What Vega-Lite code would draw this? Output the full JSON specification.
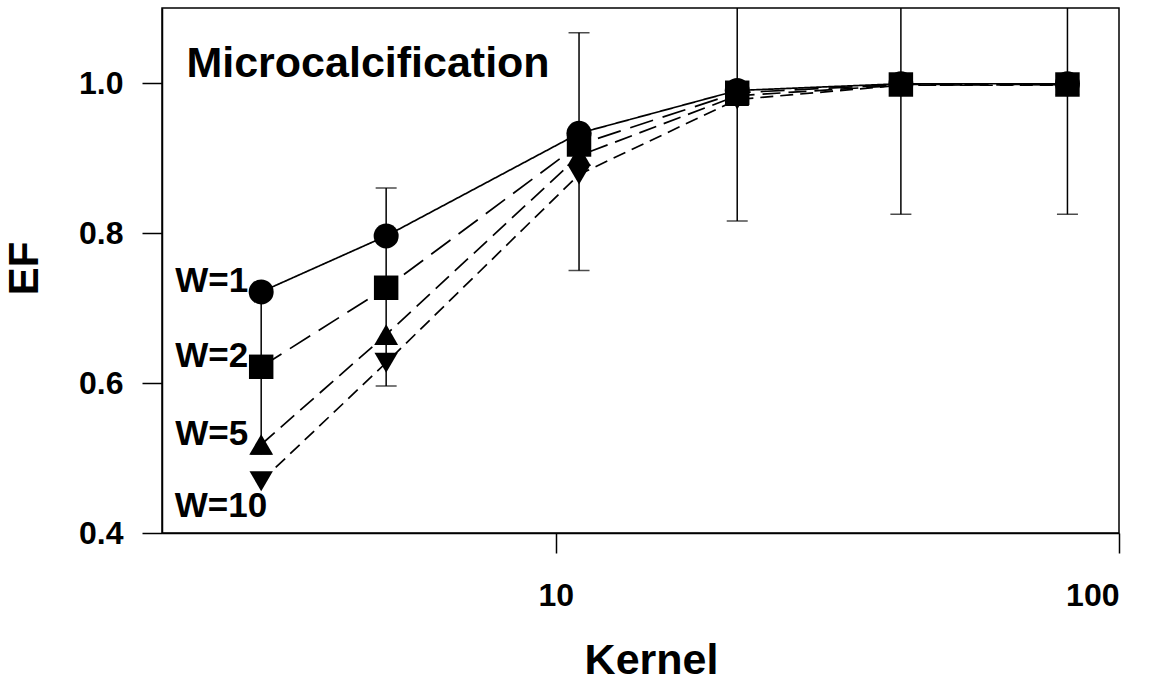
{
  "$schema": "https://vega.github.io/schema/vega-lite/v6.json",
  "width": 957,
  "height": 525,
  "autosize": "none",
  "padding": {"left": 162, "top": 8, "right": 38, "bottom": 150},
  "background": "white",
  "config": {
    "font": "Liberation Sans",
    "view": {"stroke": "black", "strokeWidth": 1.5},
    "axis": {
      "domainColor": "black", "domainWidth": 1.5,
      "tickColor": "black", "tickWidth": 1.5, "tickSize": 20,
      "labelColor": "black", "labelFont": "Liberation Sans", "labelFontSize": 32, "labelFontWeight": "bold",
      "titleFont": "Liberation Sans", "titleFontSize": 43, "titleFontWeight": "bold", "titleColor": "black",
      "grid": false
    }
  },
  "datasets": {
    "points": [
      {"kernel": 3, "ef": 0.7215, "series": "W=1"},
      {"kernel": 5, "ef": 0.796, "series": "W=1"},
      {"kernel": 11, "ef": 0.933, "series": "W=1"},
      {"kernel": 21, "ef": 0.99, "series": "W=1"},
      {"kernel": 41, "ef": 0.999, "series": "W=1"},
      {"kernel": 81, "ef": 0.999, "series": "W=1"},
      {"kernel": 3, "ef": 0.6216, "series": "W=2"},
      {"kernel": 5, "ef": 0.727, "series": "W=2"},
      {"kernel": 11, "ef": 0.918, "series": "W=2"},
      {"kernel": 21, "ef": 0.987, "series": "W=2"},
      {"kernel": 41, "ef": 0.998, "series": "W=2"},
      {"kernel": 81, "ef": 0.998, "series": "W=2"},
      {"kernel": 3, "ef": 0.518, "series": "W=5"},
      {"kernel": 5, "ef": 0.6645, "series": "W=5"},
      {"kernel": 11, "ef": 0.903, "series": "W=5"},
      {"kernel": 21, "ef": 0.983, "series": "W=5"},
      {"kernel": 41, "ef": 0.997, "series": "W=5"},
      {"kernel": 81, "ef": 0.998, "series": "W=5"},
      {"kernel": 3, "ef": 0.469, "series": "W=10"},
      {"kernel": 5, "ef": 0.627, "series": "W=10"},
      {"kernel": 11, "ef": 0.878, "series": "W=10"},
      {"kernel": 21, "ef": 0.978, "series": "W=10"},
      {"kernel": 41, "ef": 0.997, "series": "W=10"},
      {"kernel": 81, "ef": 0.997, "series": "W=10"}
    ],
    "errors": [
      {"kernel": 3, "lo": 0.505, "hi": 0.72},
      {"kernel": 5, "lo": 0.596, "hi": 0.86},
      {"kernel": 11, "lo": 0.75, "hi": 1.067},
      {"kernel": 21, "lo": 0.816, "hi": 1.16},
      {"kernel": 41, "lo": 0.825, "hi": 1.17},
      {"kernel": 81, "lo": 0.825, "hi": 1.17}
    ],
    "notes": [
      {"kernel": 2.21, "ef": 1.0076, "label": "Microcalcification"}
    ]
  },
  "layer": [
    {
      "data": {"name": "errors"},
      "mark": {"type": "rule", "clip": true, "color": "black", "strokeWidth": 1.5},
      "encoding": {
        "x": {"field": "kernel", "type": "quantitative", "scale": {"type": "log", "domain": [2, 100], "nice": false},
              "axis": {"values": [10, 100], "format": "d", "labelPadding": 52, "labelBaseline": "alphabetic", "title": "Kernel", "titleX": 489, "titleY": 140, "titleBaseline": "alphabetic", "titleAnchor": null}},
        "y": {"field": "lo", "type": "quantitative", "scale": {"domain": [0.4, 1.1], "nice": false, "zero": false},
              "axis": {"values": [0.4, 0.6, 0.8, 1.0], "format": ".1f", "labelPadding": 19, "title": "EF", "titleX": -125, "titleY": 260, "titleBaseline": "alphabetic", "titleAngle": 270, "titleFontSize": 42}},
        "y2": {"field": "hi"}
      }
    },
    {
      "data": {"name": "errors"},
      "mark": {"type": "tick", "orient": "horizontal", "clip": true, "color": "black", "size": 21, "thickness": 1.5},
      "encoding": {
        "x": {"field": "kernel", "type": "quantitative", "title": "Kernel"},
        "y": {"field": "lo", "type": "quantitative", "title": "EF"}
      }
    },
    {
      "data": {"name": "errors"},
      "mark": {"type": "tick", "orient": "horizontal", "clip": true, "color": "black", "size": 21, "thickness": 1.5},
      "encoding": {
        "x": {"field": "kernel", "type": "quantitative", "title": "Kernel"},
        "y": {"field": "hi", "type": "quantitative", "title": "EF"}
      }
    },
    {
      "data": {"name": "points"},
      "mark": {"type": "line", "color": "black", "strokeWidth": 1.7},
      "encoding": {
        "x": {"field": "kernel", "type": "quantitative", "title": "Kernel"},
        "y": {"field": "ef", "type": "quantitative", "title": "EF"},
        "detail": {"field": "series"},
        "strokeDash": {"field": "series", "type": "nominal", "legend": null,
          "scale": {"domain": ["W=1", "W=2", "W=5", "W=10"], "range": [[1, 0], [24, 10], [18, 8], [13, 7]]}}
      }
    },
    {
      "data": {"name": "points"},
      "mark": {"type": "point", "filled": true, "color": "black", "opacity": 1, "strokeWidth": 0},
      "encoding": {
        "x": {"field": "kernel", "type": "quantitative", "title": "Kernel"},
        "y": {"field": "ef", "type": "quantitative", "title": "EF"},
        "shape": {"field": "series", "type": "nominal", "legend": null,
          "scale": {"domain": ["W=1", "W=2", "W=5", "W=10"], "range": ["circle", "square", "triangle-up", "triangle-down"]}},
        "size": {"field": "series", "type": "nominal", "legend": null,
          "scale": {"domain": ["W=1", "W=2", "W=5", "W=10"], "range": [625, 545, 676, 676]}}
      }
    },
    {
      "data": {"name": "points"},
      "transform": [{"filter": "datum.kernel === 3 && datum.series !== 'W=10'"}],
      "mark": {"type": "text", "align": "right", "baseline": "alphabetic", "dx": -13, "dy": 0, "fontSize": 35, "fontWeight": "bold", "font": "Liberation Sans", "color": "black"},
      "encoding": {
        "x": {"field": "kernel", "type": "quantitative", "title": "Kernel"},
        "y": {"field": "ef", "type": "quantitative", "title": "EF"},
        "text": {"field": "series"}
      }
    },
    {
      "data": {"name": "points"},
      "transform": [{"filter": "datum.kernel === 3 && datum.series === 'W=10'"}],
      "mark": {"type": "text", "align": "right", "baseline": "alphabetic", "dx": 6, "dy": 36, "fontSize": 35, "fontWeight": "bold", "font": "Liberation Sans", "color": "black"},
      "encoding": {
        "x": {"field": "kernel", "type": "quantitative", "title": "Kernel"},
        "y": {"field": "ef", "type": "quantitative", "title": "EF"},
        "text": {"field": "series"}
      }
    },
    {
      "data": {"name": "notes"},
      "mark": {"type": "text", "align": "left", "baseline": "alphabetic", "fontSize": 43, "fontWeight": "bold", "font": "Liberation Sans", "color": "black"},
      "encoding": {
        "x": {"field": "kernel", "type": "quantitative", "title": "Kernel"},
        "y": {"field": "ef", "type": "quantitative", "title": "EF"},
        "text": {"field": "label"}
      }
    }
  ]
}
